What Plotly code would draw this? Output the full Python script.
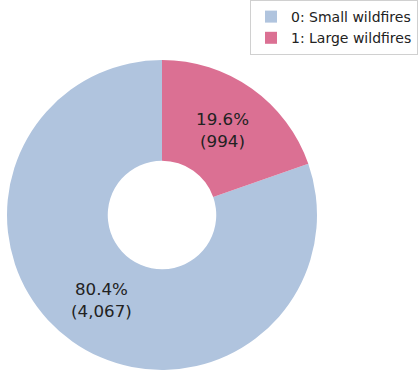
import plotly.graph_objects as go

labels = ["0: Small wildfires", "1: Large wildfires"]
values = [4067, 994]
colors = ["#B0C4DE", "#DB7093"]

W, H = 418, 374
cx, cy, r = 162, 215, 155

# first slice drawn counterclockwise from 12 o'clock (matplotlib convention)
start_angle = 360.0 * values[1] / sum(values)

fig = go.Figure(go.Pie(
    labels=labels,
    values=values,
    marker=dict(colors=colors, line=dict(color="white", width=0)),
    hole=0.35,
    sort=False,
    direction="clockwise",
    rotation=start_angle,
    textposition="inside",
    insidetextorientation="horizontal",
    texttemplate="%{percent:.1%}<br>(%{value:,})",
    textfont=dict(family="DejaVu Sans", size=16.7, color="#222222"),
    domain=dict(x=[(cx - r) / W, (cx + r) / W], y=[1 - (cy + r) / H, 1 - (cy - r) / H]),
    hoverinfo="label+value+percent",
))

fig.update_layout(
    width=W, height=H,
    margin=dict(l=0, r=0, t=0, b=0),
    paper_bgcolor="white",
    plot_bgcolor="white",
    font=dict(family="DejaVu Sans", size=14, color="#222222"),
    legend=dict(
        x=1, y=1, xanchor="right", yanchor="top",
        bgcolor="white", bordercolor="#d0d0d0", borderwidth=1,
        font=dict(family="DejaVu Sans", size=14, color="#222222"),
        traceorder="normal",
    ),
    uniformtext=dict(minsize=16, mode="show"),
)

fig.write_html("out.html")
